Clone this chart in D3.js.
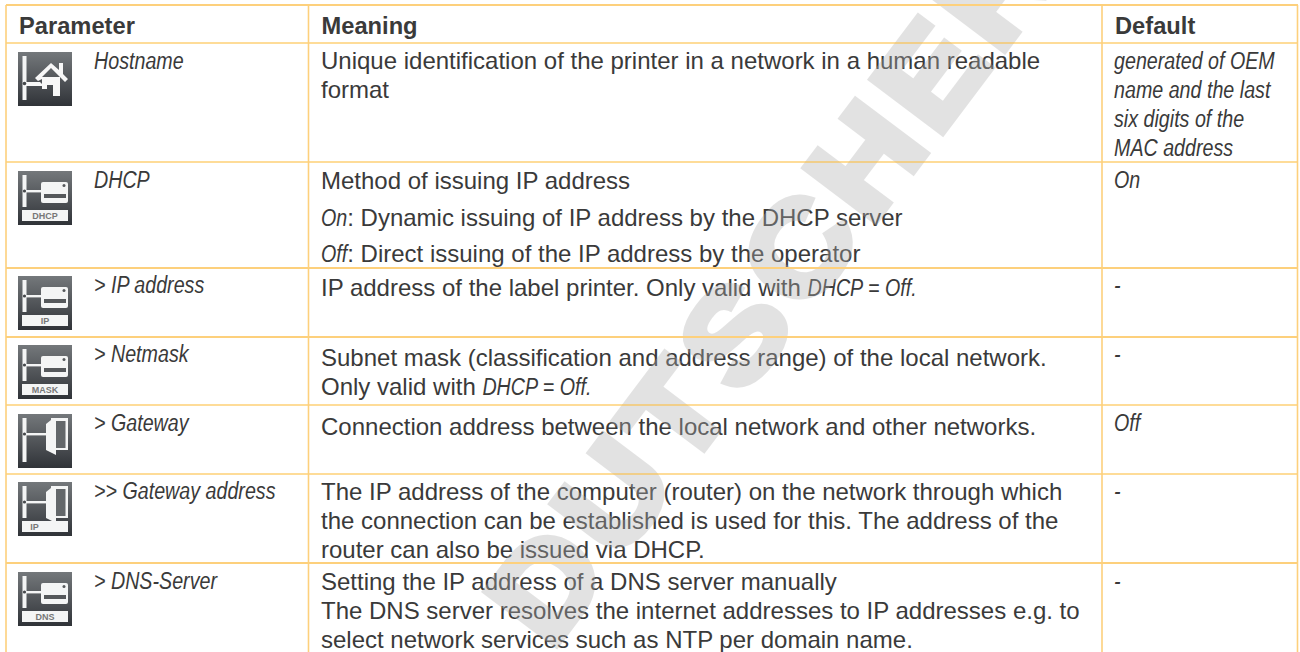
<!DOCTYPE html>
<html>
<head>
<meta charset="utf-8">
<script src="https://cdn.jsdelivr.net/npm/d3@7"></script>
<style>
    html, body { margin: 0; padding: 0; background: #fff; }
    svg { display: block; }
    text { font-family: "Liberation Sans", Arial, sans-serif; fill: #3a3a3a; }
</style>
</head>
<body>
<svg width="1300" height="652"></svg>
<script>
// table content, *...* marks italic runs
const headers = ["Parameter", "Meaning", "Default"];
const parameters = ["Hostname", "DHCP", "> IP address", "> Netmask", "> Gateway", ">> Gateway address", "> DNS-Server"];
const iconKinds = ["home", "printer", "printer", "printer", "door", "door", "printer"];
const iconTags = ["", "DHCP", "IP", "MASK", "", "IP", "DNS"];
const meanings = [
    ["Unique identification of the printer in a network in a human readable", "format"],
    ["Method of issuing IP address", "*On*: Dynamic issuing of IP address by the DHCP server", "*Off*: Direct issuing of the IP address by the operator"],
    ["IP address of the label printer. Only valid with *DHCP = Off.*"],
    ["Subnet mask (classification and address range) of the local network.", "Only valid with *DHCP = Off.*"],
    ["Connection address between the local network and other networks."],
    ["The IP address of the computer (router) on the network through which", "the connection can be established is used for this. The address of the", "router can also be issued via DHCP."],
    ["Setting the IP address of a DNS server manually", "The DNS server resolves the internet addresses to IP addresses e.g. to", "select network services such as NTP per domain name."]
];
const defaults = [
    ["generated of OEM", "name and the last", "six digits of the", "MAC address"],
    ["On"], ["-"], ["-"], ["Off"], ["-"], ["-"]
];
const watermark = "DUTSCHER";

// layout
const rowTop = d3.scaleOrdinal(parameters, [43, 162, 268, 337, 405, 474, 563]);
const colX = d3.scaleOrdinal(headers, [6, 308.5, 1102]);
const meaningFirst = d3.scaleOrdinal(parameters, [69, 189, 296, 366, 435, 500, 590]);
const meaningGap = d3.scaleOrdinal(parameters, [29, 36.5, 29, 29, 29, 29, 29]);
const paramBase = d3.scaleOrdinal(parameters, [69, 188, 293, 362, 431, 499, 589]);
const iconTop = d3.scaleOrdinal(parameters, [52, 171, 276, 345, 414, 482, 572]);

const svg = d3.select("svg");
const orange = "#fdb933", pale = "#fdd07c";
const fontSize = 24, narrow = 0.82;

const defs = svg.append("defs");
const grad = defs.append("linearGradient").attr("id", "iconBg")
    .attr("x1", 0).attr("y1", 0).attr("x2", 0).attr("y2", 1);
grad.append("stop").attr("offset", 0).attr("stop-color", "#74787b");
grad.append("stop").attr("offset", 1).attr("stop-color", "#303338");

// writes a line run by run, italic runs are squeezed to look like the narrow face
function richText(sel, line, x, y) {
    let cursor = x;
    line.split("*").forEach(function(part, i) {
        if (part === "") return;
        let italic = i % 2 === 1;
        let k = italic ? narrow : 1;
        let t = sel.append("text")
            .attr("transform", "translate(" + cursor + "," + y + ") scale(" + k + ",1)")
            .attr("font-size", fontSize)
            .attr("font-style", italic ? "italic" : "normal")
            .attr("xml:space", "preserve")
            .style("white-space", "pre")
            .text(part);
        cursor += t.node().getComputedTextLength() * k;
    });
}

let body = svg.append("g");

// headers
body.selectAll("text.head")
    .data(headers)
    .enter().append("text")
    .attr("class", "head")
    .attr("x", function(d) { return colX(d) + 13; })
    .attr("y", 34)
    .attr("font-size", 23.7)
    .attr("font-weight", "bold")
    .text(function(d) { return d; });

parameters.forEach(function(p, i) {
    richText(body, "*" + p + "*", 94, paramBase(p));
    let gap = meaningGap(p);
    meanings[i].forEach(function(line, j) {
        richText(body, line, 321, meaningFirst(p) + j * gap);
    });
    defaults[i].forEach(function(line, j) {
        richText(body, "*" + line + "*", 1114, (i === 0 ? 69 : paramBase(p)) + j * 29);
    });
});

// watermark sits over the text, which greys out beneath it
svg.append("text")
    .attr("transform", "translate(551,651) rotate(-53) scale(1.1,1)")
    .attr("font-size", 127)
    .attr("font-weight", "bold")
    .attr("letter-spacing", 9)
    .style("fill", "#afafaf")
    .style("stroke", "#afafaf")
    .style("stroke-width", 8)
    .attr("opacity", 0.35)
    .text(watermark);

// grid
const paleRows = ["> IP address", "> Netmask", "> DNS-Server"];
let grid = svg.append("g");
grid.append("line").attr("x1", 6).attr("x2", 1298).attr("y1", 5).attr("y2", 5)
    .attr("stroke", pale).attr("stroke-width", 2);
parameters.forEach(function(p) {
    let isPale = paleRows.indexOf(p) >= 0;
    grid.append("line").attr("x1", 6).attr("x2", 1298)
        .attr("y1", rowTop(p)).attr("y2", rowTop(p))
        .attr("stroke", isPale ? pale : orange)
        .attr("stroke-width", isPale ? 2 : 1.2);
});
colX.domain().concat("end").forEach(function(c) {
    let x = c === "end" ? 1297.5 : colX(c);
    grid.append("line").attr("x1", x).attr("x2", x).attr("y1", 5).attr("y2", 652)
        .attr("stroke", pale).attr("stroke-width", 1.6);
});

// icons
function drawIcon(g, kind, tag) {
    g.append("rect").attr("width", 54).attr("height", 54).attr("fill", "url(#iconBg)");
    let barEnd = tag ? 36 : 48;
    g.append("rect").attr("x", 4.5).attr("y", 4).attr("width", 4).attr("height", barEnd - 4).attr("fill", "#f4f5f5");
    if (kind === "home") {
        g.append("path").attr("fill", "#f7f7f7")
            .attr("d", "M8 30 H22 L24 32 V27 L20 29 L17 26 L33 11 L41 18 V11 H45 V22 L50 27 L47 30 L33 16 L24 25 H42 V44 H35 V33 H29 V37 H24 V34 H8 Z");
        g.append("circle").attr("cx", 6.5).attr("cy", 31.5).attr("r", 1.8).attr("fill", "#44474a");
        return;
    }
    if (kind === "printer") {
        g.append("rect").attr("x", 8).attr("y", 19).attr("width", 16).attr("height", 2.4).attr("fill", "#f4f5f5");
        g.append("rect").attr("x", 23).attr("y", 11).attr("width", 27).attr("height", 21).attr("rx", 2).attr("fill", "#f4f5f5");
        g.append("rect").attr("x", 26).attr("y", 23).attr("width", 22).attr("height", 4).attr("fill", "#55585b");
        g.append("circle").attr("cx", 46).attr("cy", 14.5).attr("r", 1.5).attr("fill", "#55585b");
    } else {
        g.append("rect").attr("x", 8).attr("y", 19).attr("width", 20).attr("height", 2.4).attr("fill", "#f4f5f5");
        g.append("rect").attr("x", 33).attr("y", 4).attr("width", 17).attr("height", 32).attr("fill", "#f4f5f5");
        g.append("rect").attr("x", 38).attr("y", 7).attr("width", 9.5).attr("height", 27).attr("fill", "#63676a");
        g.append("path").attr("fill", "#f4f5f5").attr("d", "M33 6 L38 7 V41 L28 36 V10 Z");
    }
    g.append("circle").attr("cx", 6.5).attr("cy", 20).attr("r", 1.6).attr("fill", "#44474a");
    if (tag) {
        g.append("rect").attr("x", 4).attr("y", 39).attr("width", 46).attr("height", 11).attr("fill", "#f4f5f5");
        g.append("text").attr("x", kind === "door" ? 16.5 : 27).attr("y", 48)
            .attr("text-anchor", "middle").attr("font-size", 9).attr("font-weight", "bold")
            .style("fill", "#777").text(tag);
    }
}

parameters.forEach(function(p, i) {
    let g = svg.append("g").attr("transform", "translate(18," + iconTop(p) + ")");
    drawIcon(g, iconKinds[i], iconTags[i]);
});
</script>
</body>
</html>
